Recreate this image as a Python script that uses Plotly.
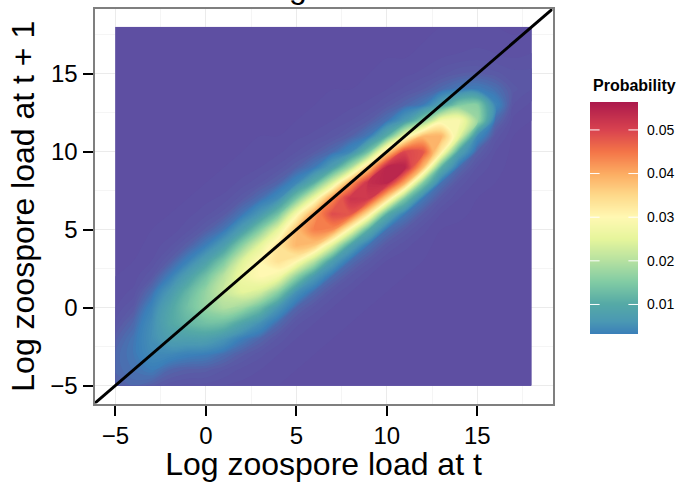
import numpy as np
import plotly.graph_objects as go

# Grid positions of the probability table
load_t = [-5,-4,-3,-2,-1,0,1,2,3,4,5,6,7,8,9,10,11,12,13,14,15,16,17,18]
load_t1 = [-5,-4,-3,-2,-1,0,1,2,3,4,5,6,7,8,9,10,11,12,13,14,15,16,17,18]

# Probability x 1e4; one list per column (load at t = -5 ... 18),
# entries run over load at t+1 = -5 ... 18
col_m5 = [15,20,20,15,8,4,2,1,0,0,0,0,0,0,0,0,0,0,0,0,0,0,0,0]
col_m4 = [20,25,28,27,20,11,5,2,1,0,0,0,0,0,0,0,0,0,0,0,0,0,0,0]
col_m3 = [14,31,44,50,48,38,23,10,4,2,1,0,0,0,0,0,0,0,0,0,0,0,0,0]
col_m2 = [8,19,42,75,95,90,64,32,14,6,2,1,0,0,0,0,0,0,0,0,0,0,0,0]
col_m1 = [6,15,35,78,120,135,120,78,35,15,6,3,1,0,0,0,0,0,0,0,0,0,0,0]
col_00 = [6,14,32,78,135,170,170,135,78,32,14,6,3,1,0,0,0,0,0,0,0,0,0,0]
col_01 = [4,10,23,58,130,195,220,205,145,72,27,12,5,2,1,0,0,0,0,0,0,0,0,0]
col_02 = [3,6,14,32,90,178,250,268,240,160,72,27,12,5,2,1,0,0,0,0,0,0,0,0]
col_03 = [2,4,8,19,52,130,232,298,300,250,152,62,23,10,4,2,1,0,0,0,0,0,0,0]
col_04 = [1,2,4,9,21,59,160,277,337,330,255,136,46,18,8,3,1,0,0,0,0,0,0,0]
col_05 = [0,1,2,4,8,19,54,164,306,388,378,285,140,41,16,7,3,1,0,0,0,0,0,0]
col_06 = [0,0,1,2,4,9,21,65,203,369,440,413,272,109,29,13,5,2,1,0,0,0,0,0]
col_07 = [0,0,0,1,2,4,9,22,74,240,429,490,429,240,74,22,9,4,2,1,0,0,0,0]
col_08 = [0,0,0,0,1,2,4,10,23,83,279,478,520,411,187,42,16,7,3,1,0,0,0,0]
col_09 = [0,0,0,0,0,1,2,4,11,25,104,320,513,530,367,137,29,13,5,2,1,0,0,0]
col_10 = [0,0,0,0,0,0,1,2,4,11,25,106,349,543,543,349,106,25,11,4,2,1,0,0]
col_11 = [0,0,0,0,0,0,0,1,2,5,13,29,144,394,545,494,267,65,19,8,3,1,0,0]
col_12 = [0,0,0,0,0,0,0,0,1,2,5,13,29,152,382,480,382,152,29,13,5,2,1,0]
col_13 = [0,0,0,0,0,0,0,0,0,0,1,4,11,25,111,317,390,278,79,21,9,4,2,1]
col_14 = [0,0,0,0,0,0,0,0,0,0,0,2,4,9,21,82,250,288,148,29,13,5,2,1]
col_15 = [0,0,0,0,0,0,0,0,0,0,0,0,1,3,7,16,46,177,158,32,14,6,3,1]
col_16 = [0,0,0,0,0,0,0,0,0,0,0,0,0,1,2,4,9,22,40,24,11,5,2,1]
col_17 = [0,0,0,0,0,0,0,0,0,0,0,0,0,0,0,0,1,3,7,11,8,4,2,0]
col_18 = [0,0,0,0,0,0,0,0,0,0,0,0,0,0,0,0,0,1,3,7,8,5,2,1]
columns = [col_m5,col_m4,col_m3,col_m2,col_m1,col_00,col_01,col_02,col_03,col_04,col_05,col_06,
           col_07,col_08,col_09,col_10,col_11,col_12,col_13,col_14,col_15,col_16,col_17,col_18]
prob = (np.array(columns).T / 1e4).tolist()

diag = [-6.15, 19.15]
axis_ticks = [-5, 0, 5, 10, 15]
legend_ticks = [0.01, 0.02, 0.03, 0.04, 0.05]
legend_labels = ["0.01", "0.02", "0.03", "0.04", "0.05"]
z_max = 0.0564
legend_min = 0.00323

# Colour scale
scale_values = [0, 0.0012, 0.0032, 0.006, 0.010, 0.015, 0.020, 0.025, 0.030, 0.035, 0.040, 0.045, 0.050, 0.0564]
scale_colors = ["#5E4FA2", "#5A5CA6", "#3B80B9", "#4A98B3", "#55A9A6", "#80CBA4", "#B6E1A0", "#E6F59C",
                "#FFF8B2", "#FED98A", "#FCAC62", "#F47548", "#D9434F", "#AC1A4C"]
colorscale = [[v / z_max, c] for v, c in zip(scale_values, scale_colors)]

W, H = 676, 482
px = lambda a, b: [a / W, b / W]
py = lambda a, b: [1 - b / H, 1 - a / H]

fig = go.Figure()
# Base layer keeps the rectangle's edges clean under the smoothed contours
fig.add_trace(go.Heatmap(x=list(np.linspace(-5, 18, 25)), y=list(np.linspace(-5, 18, 25)), z=prob,
                         zmin=0, zmax=z_max, colorscale=colorscale, zsmooth="best",
                         showscale=False, hoverinfo="skip"))
fig.add_trace(go.Contour(x=load_t, y=load_t1, z=prob, zmin=0, zmax=z_max, colorscale=colorscale,
                         autocontour=False,
                         contours=dict(coloring="fill", start=0.0001, end=0.0564, size=0.0003, showlines=False),
                         line=dict(width=0, smoothing=1.0), showscale=False, hoverinfo="skip"))
fig.add_trace(go.Scatter(x=diag, y=diag, mode="lines", line=dict(color="black", width=3),
                         showlegend=False, hoverinfo="skip"))
ramp = np.linspace(legend_min, z_max, 232)
fig.add_trace(go.Heatmap(x=[0.5], y=ramp.tolist(), z=ramp.reshape(-1, 1).tolist(), zmin=0, zmax=z_max,
                         colorscale=colorscale, showscale=False, xaxis="x2", yaxis="y2", hoverinfo="skip"))

font = "Liberation Sans, Arial, sans-serif"
axis_common = dict(
    range=diag, tickmode="array", tickvals=axis_ticks, ticks="outside", ticklen=10, tickwidth=2,
    tickcolor="black", showline=True, mirror=True, linecolor="#7F7F7F", linewidth=2,
    showgrid=True, gridcolor="#EBEBEB", gridwidth=1, zeroline=False,
    minor=dict(dtick=2.5, tick0=0, showgrid=True, gridcolor="#F5F5F5", gridwidth=1, ticks=""),
    tickfont=dict(family=font, size=24, color="black"),
)
fig.update_layout(
    width=W, height=H, autosize=False, margin=dict(l=0, r=0, t=0, b=0),
    paper_bgcolor="white", plot_bgcolor="white", showlegend=False,
    xaxis=dict(domain=px(94.5, 552.5), title=dict(text="Log zoospore load at t", standoff=2,
               font=dict(family=font, size=32, color="black")), **axis_common),
    yaxis=dict(domain=py(9, 403.5), title=dict(text="Log zoospore load at t + 1", standoff=6,
               font=dict(family=font, size=32, color="black")), **axis_common),
    xaxis2=dict(domain=px(590, 638), range=[0, 1], visible=False, anchor="y2", fixedrange=True),
    yaxis2=dict(domain=py(102, 334), range=[legend_min, z_max], anchor="x2", side="right",
                tickmode="array", tickvals=legend_ticks, ticktext=legend_labels, ticks="",
                ticklabelstandoff=8, showgrid=False, zeroline=False, showline=False,
                tickfont=dict(family=font, size=14, color="black")),
    annotations=[
        dict(text="<b>Probability</b>", xref="paper", yref="paper", x=591 / W, y=1 - 85 / H,
             xanchor="left", yanchor="middle", showarrow=False,
             font=dict(family=font, size=16, color="black")),
        dict(text="g", xref="paper", yref="paper", x=297.5 / W, y=1 - 7 / H, xanchor="center",
             yanchor="bottom", showarrow=False, font=dict(family=font, size=32, color="black")),
    ],
    shapes=[
        s for t in legend_ticks for s in (
            dict(type="line", xref="x2", yref="y2", x0=0, x1=0.2, y0=t, y1=t, line=dict(color="white", width=1)),
            dict(type="line", xref="x2", yref="y2", x0=0.8, x1=1, y0=t, y1=t, line=dict(color="white", width=1)),
        )
    ],
)
fig.write_html("out.html", config={"displayModeBar": False}, post_script="document.body.style.margin='0';")
